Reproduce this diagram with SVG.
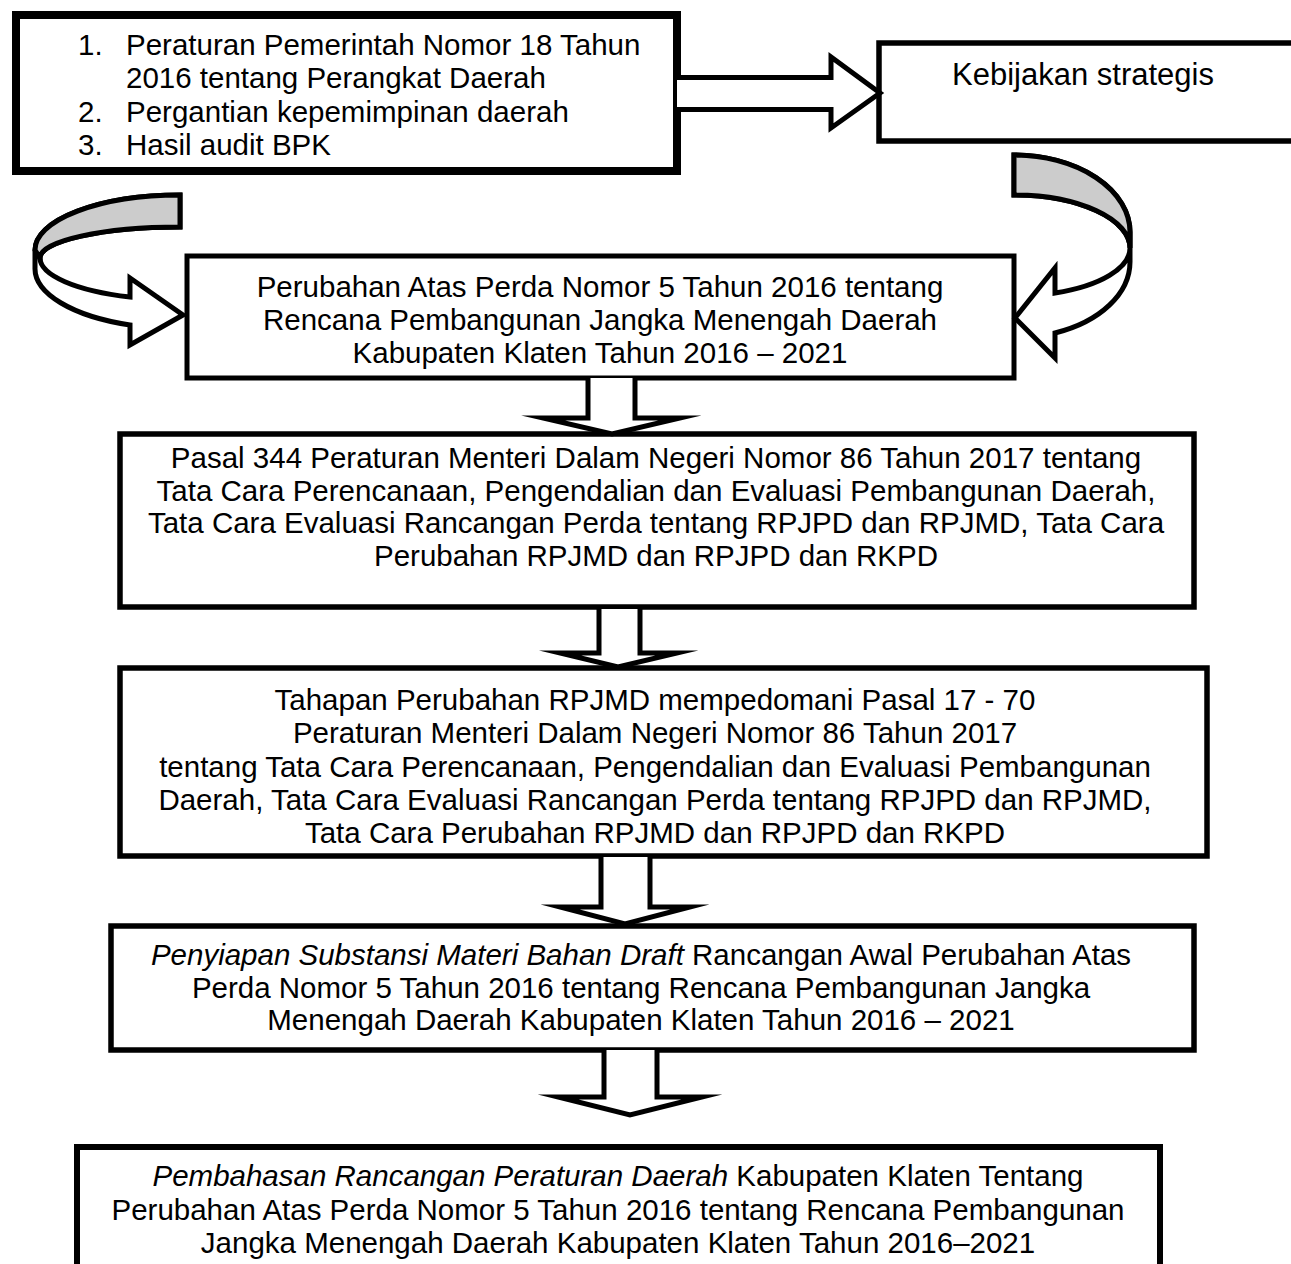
<svg xmlns="http://www.w3.org/2000/svg" width="1291" height="1264" viewBox="0 0 1291 1264">
<style>
.box{fill:#fff;stroke:#000;stroke-width:5.5}
.t{font-family:"Liberation Sans",Arial,sans-serif;font-size:29.5px;fill:#000}
.c{text-anchor:middle}
.i{font-style:italic}
.arr{fill:#fff;stroke:#000;stroke-width:5;stroke-linejoin:miter;stroke-miterlimit:10}
.band{fill:#cccccc;stroke:#000;stroke-width:5}
</style>
<rect width="1291" height="1264" fill="#fff"/>
<g id="node-sebab">
<rect class="box" x="16" y="15" width="661" height="156" style="stroke-width:8"/>
<text class="t"><tspan x="78" y="55">1.</tspan><tspan x="126" y="55">Peraturan Pemerintah Nomor 18 Tahun</tspan><tspan x="126" y="88">2016 tentang Perangkat Daerah</tspan><tspan x="78" y="122">2.</tspan><tspan x="126" y="122">Pergantian kepemimpinan daerah</tspan><tspan x="78" y="155">3.</tspan><tspan x="126" y="155">Hasil audit BPK</tspan></text>
</g>
<g id="node-kebijakan">
<rect class="box" x="879" y="43" width="430" height="98"/>
<text class="t" x="952" y="85" style="font-size:31px">Kebijakan strategis</text>
</g>
<g id="node-perubahan">
<rect class="box" x="187" y="256" width="827" height="122" style="stroke-width:5"/>
<text class="t c"><tspan x="600" y="297">Perubahan Atas Perda Nomor 5 Tahun 2016 tentang</tspan><tspan x="600" y="330">Rencana Pembangunan Jangka Menengah Daerah</tspan><tspan x="600" y="363">Kabupaten Klaten Tahun 2016 – 2021</tspan></text>
</g>
<g id="node-pasal344">
<rect class="box" x="120" y="434" width="1074" height="173"/>
<text class="t c"><tspan x="656" y="468">Pasal 344 Peraturan Menteri Dalam Negeri Nomor 86 Tahun 2017 tentang</tspan><tspan x="656" y="501">Tata Cara Perencanaan, Pengendalian dan Evaluasi Pembangunan Daerah,</tspan><tspan x="656" y="533">Tata Cara Evaluasi Rancangan Perda tentang RPJPD dan RPJMD, Tata Cara</tspan><tspan x="656" y="566">Perubahan RPJMD dan RPJPD dan RKPD</tspan></text>
</g>
<g id="node-tahapan">
<rect class="box" x="120" y="668" width="1087" height="188"/>
<text class="t c"><tspan x="655" y="710">Tahapan Perubahan RPJMD mempedomani Pasal 17 - 70</tspan><tspan x="655" y="743">Peraturan Menteri Dalam Negeri Nomor 86 Tahun 2017</tspan><tspan x="655" y="777">tentang Tata Cara Perencanaan, Pengendalian dan Evaluasi Pembangunan</tspan><tspan x="655" y="810">Daerah, Tata Cara Evaluasi Rancangan Perda tentang RPJPD dan RPJMD,</tspan><tspan x="655" y="843">Tata Cara Perubahan RPJMD dan RPJPD dan RKPD</tspan></text>
</g>
<g id="node-penyiapan">
<rect class="box" x="111" y="926" width="1083" height="124"/>
<text class="t c" x="641" y="965"><tspan class="i">Penyiapan Substansi Materi Bahan Draft</tspan> Rancangan Awal Perubahan Atas</text>
<text class="t c"><tspan x="641" y="998">Perda Nomor 5 Tahun 2016 tentang Rencana Pembangunan Jangka</tspan><tspan x="641" y="1030">Menengah Daerah Kabupaten Klaten Tahun 2016 – 2021</tspan></text>
</g>
<g id="node-pembahasan">
<rect class="box" x="77" y="1147" width="1083" height="140" style="stroke-width:6"/>
<text class="t c" x="618" y="1186"><tspan class="i">Pembahasan Rancangan Peraturan Daerah</tspan> Kabupaten Klaten Tentang</text>
<text class="t c"><tspan x="618" y="1220">Perubahan Atas Perda Nomor 5 Tahun 2016 tentang Rencana Pembangunan</tspan><tspan x="618" y="1253">Jangka Menengah Daerah Kabupaten Klaten Tahun 2016–2021</tspan></text>
</g>
<g id="connectors">
<path class="arr" d="M677,77.5 L831,77.5 L831,57 L880,93 L831,128 L831,109.5 L677,109.5"/>
<path class="arr" d="M180,195 A145,55 0 0 0 35,250 L35,268 A145,60 0 0 0 130,325 L130,345 L183,315 L130,278 L130,297 A140,42 0 0 1 40,258 A140,31 0 0 1 180,227 Z"/>
<path class="band" d="M180,195 A145,55 0 0 0 35,250 L40,258 A140,31 0 0 1 180,227 Z"/>
<path class="arr" d="M1014,155 A116,77 0 0 1 1130,232 L1130,262 A116,76 0 0 1 1055,333 L1055,358 L1015,318 L1055,268 L1055,293 A116,48 0 0 0 1130,248 A116,53 0 0 0 1014,195 Z"/>
<path class="band" d="M1014,155 A116,77 0 0 1 1130,232 L1130,248 A116,53 0 0 0 1014,195 Z"/>
<path class="arr" d="M588,378 L588,418 L543,418 L612,434 L680,418 L635,418 L635,378"/>
<path class="arr" d="M599,609 L599,653 L560,653 L618,667 L677,653 L640,653 L640,609"/>
<path class="arr" d="M601,857 L601,907 L560,907 L625,924 L690,907 L650,907 L650,857"/>
<path class="arr" d="M604,1050 L604,1097 L558,1097 L630,1115 L702,1097 L657,1097 L657,1050"/>
</g>
</svg>
